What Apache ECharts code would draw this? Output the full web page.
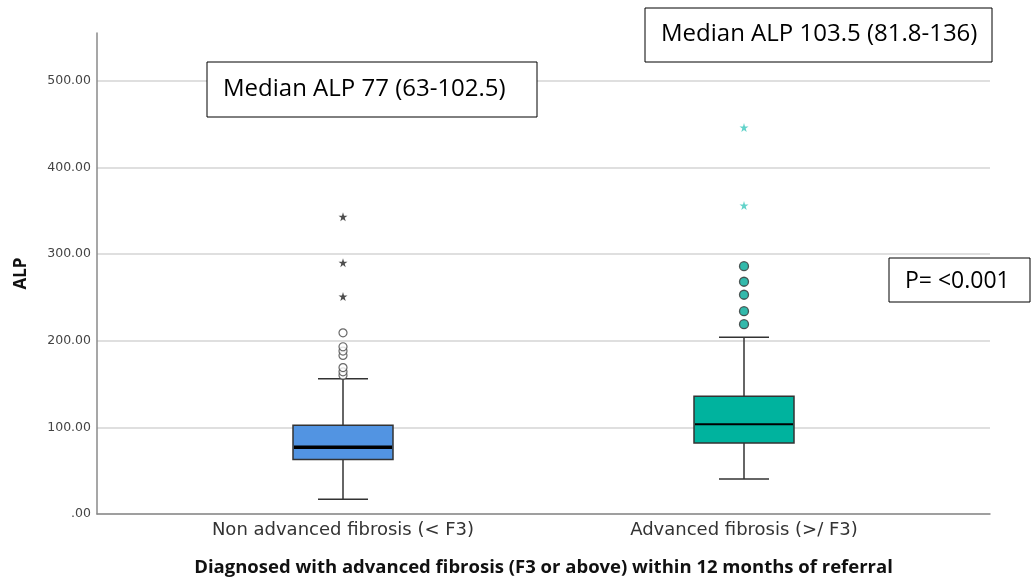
<!DOCTYPE html>
<html lang="en">
<head>
    <meta charset="UTF-8">
    <title>ALP by fibrosis stage</title>
    <style>
        html, body { margin: 0; padding: 0; background: #fff; }
        #container { width: 1034px; height: 583px; }
    </style>
</head>
<body>
<div id="container"></div>
<script src="https://cdn.jsdelivr.net/npm/echarts@6/dist/echarts.min.js"></script>
<script>
    // groups on the x axis
    var categories = ['Non advanced fibrosis (< F3)', 'Advanced fibrosis (>/ F3)'];
    // [min, Q1, median, Q3, max] per group
    var boxNonAdvanced = [17, 63, 77, 102.5, 156];
    var boxAdvanced = [40.5, 82, 103.5, 136, 204];
    // outliers
    var circlesNonAdvanced = [160, 164, 169, 183, 188, 193, 209];
    var starsNonAdvanced = [251, 290, 343];
    var circlesAdvanced = [219, 234, 253, 268, 286];
    var starsAdvanced = [356, 446];
    var yTicks = [0, 100, 200, 300, 400, 500];
    var notes = ['Median ALP 77 (63-102.5)', 'Median ALP 103.5 (81.8-136)', 'P= <0.001'];

    var STAR = 'path://M50,0 L61,35 L98,35 L68,57 L79,91 L50,70 L21,91 L32,57 L2,35 L39,35 Z';
    var BOX_W = 100;
    var boxColors = ['#5294e2', '#00b39e'];
    var medianWidth = [3.5, 2];

    function pts(idx, arr) {
        return arr.map(function (v) { return [idx, v]; });
    }

    // box + whiskers with short caps (SPSS style)
    function renderBox(params, api) {
        var i = api.value(0);
        var pMin = api.coord([i, api.value(1)]);
        var pQ1 = api.coord([i, api.value(2)]);
        var pMed = api.coord([i, api.value(3)]);
        var pQ3 = api.coord([i, api.value(4)]);
        var pMax = api.coord([i, api.value(5)]);
        var x = pMed[0], hw = BOX_W / 2, cw = BOX_W / 4;
        var line = { stroke: '#333', lineWidth: 1.5 };
        return {
            type: 'group',
            children: [
                { type: 'line', shape: { x1: x, y1: pMin[1], x2: x, y2: pQ1[1] }, style: line },
                { type: 'line', shape: { x1: x, y1: pQ3[1], x2: x, y2: pMax[1] }, style: line },
                { type: 'line', shape: { x1: x - cw, y1: pMin[1], x2: x + cw, y2: pMin[1] }, style: line },
                { type: 'line', shape: { x1: x - cw, y1: pMax[1], x2: x + cw, y2: pMax[1] }, style: line },
                { type: 'rect', shape: { x: x - hw, y: pQ3[1], width: BOX_W, height: pQ1[1] - pQ3[1] },
                  style: { fill: boxColors[params.dataIndex], stroke: '#333', lineWidth: 1.5 } },
                { type: 'line', shape: { x1: x - hw + 1, y1: pMed[1], x2: x + hw - 1, y2: pMed[1] },
                  style: { stroke: '#000', lineWidth: medianWidth[params.dataIndex] } }
            ]
        };
    }

    var myChart = echarts.init(document.getElementById('container'));

    var option = {
        backgroundColor: '#fff',
        animation: false,
        grid: [
            { left: 97, right: 44, top: 33, bottom: 69, outerBoundsMode: 'none' },
            { left: 142.5, right: 89.5, top: 33, bottom: 69, outerBoundsMode: 'none' }
        ],
        xAxis: [{
            gridIndex: 0,
            type: 'value', min: 0, max: 1,
            axisLine: { show: true, lineStyle: { color: '#8a8a8a', width: 1.5 } },
            axisTick: { show: false },
            axisLabel: { show: false },
            splitLine: { show: false },
            name: 'Diagnosed with advanced fibrosis (F3 or above) within 12 months of referral',
            nameLocation: 'middle',
            nameGap: 44,
            nameTextStyle: { fontFamily: 'Open Sans', fontWeight: 'bold', fontSize: 18.5, color: '#111' }
        }, {
            gridIndex: 1,
            type: 'category',
            data: categories,
            axisLine: { show: false },
            axisTick: { show: false },
            axisLabel: { margin: 7, fontFamily: 'DejaVu Sans', fontSize: 18, color: '#333' }
        }],
        yAxis: [{
            gridIndex: 0,
            type: 'value', min: 0, max: 555, interval: 100,
            axisLine: { show: true, lineStyle: { color: '#8a8a8a', width: 1.5 } },
            axisTick: { show: false },
            axisLabel: {
                showMaxLabel: false,
                margin: 6,
                fontFamily: 'DejaVu Sans', fontSize: 12.5, color: '#444',
                formatter: function (v) { return v === 0 ? '.00' : v.toFixed(2); }
            },
            splitLine: { show: true, showMaxLine: false, lineStyle: { color: '#d4d4d4', width: 1.5 } },
            name: 'ALP',
            nameLocation: 'middle',
            nameGap: 67,
            nameTextStyle: { fontFamily: 'Open Sans', fontWeight: 'bold', fontSize: 17, color: '#111' }
        }, {
            gridIndex: 1,
            type: 'value', min: 0, max: 555,
            show: false
        }],
        series: [{
            type: 'custom',
            xAxisIndex: 1, yAxisIndex: 1,
            data: [[0].concat(boxNonAdvanced), [1].concat(boxAdvanced)],
            encode: { x: 0, y: [1, 2, 3, 4, 5] },
            renderItem: renderBox,
            z: 3
        }, {
            type: 'scatter',
            xAxisIndex: 1, yAxisIndex: 1,
            data: pts(0, circlesNonAdvanced),
            symbol: 'circle', symbolSize: 8,
            itemStyle: { color: '#fff', borderColor: '#444', borderWidth: 1.2 },
            z: 5
        }, {
            type: 'scatter',
            xAxisIndex: 1, yAxisIndex: 1,
            data: pts(0, starsNonAdvanced),
            symbol: STAR, symbolSize: 9,
            itemStyle: { color: '#222' },
            z: 5
        }, {
            type: 'scatter',
            xAxisIndex: 1, yAxisIndex: 1,
            data: pts(1, circlesAdvanced),
            symbol: 'circle', symbolSize: 9,
            itemStyle: { color: '#00a896', borderColor: '#333', borderWidth: 1.3 },
            z: 5
        }, {
            type: 'scatter',
            xAxisIndex: 1, yAxisIndex: 1,
            data: pts(1, starsAdvanced),
            symbol: STAR, symbolSize: 9,
            itemStyle: { color: '#3cc8bd' },
            z: 5
        }],
        graphic: [
            { type: 'rect', shape: { x: 207, y: 62, width: 330, height: 55 }, style: { fill: '#fff', stroke: '#000', lineWidth: 1 }, z: 10 },
            { type: 'text', x: 223, y: 89, style: { text: notes[0], font: '24px "Open Sans"', fill: '#000', textVerticalAlign: 'middle' }, z: 11 },
            { type: 'rect', shape: { x: 645, y: 8, width: 347, height: 54 }, style: { fill: '#fff', stroke: '#000', lineWidth: 1 }, z: 10 },
            { type: 'text', x: 661, y: 34, style: { text: notes[1], font: '24px "Open Sans"', fill: '#000', textVerticalAlign: 'middle' }, z: 11 },
            { type: 'rect', shape: { x: 889, y: 258, width: 141, height: 44 }, style: { fill: '#fff', stroke: '#000', lineWidth: 1 }, z: 10 },
            { type: 'text', x: 905, y: 281, style: { text: notes[2], font: '23px "Open Sans"', fill: '#000', textVerticalAlign: 'middle' }, z: 11 }
        ]
    };

    myChart.setOption(option);
</script>
</body>
</html>
